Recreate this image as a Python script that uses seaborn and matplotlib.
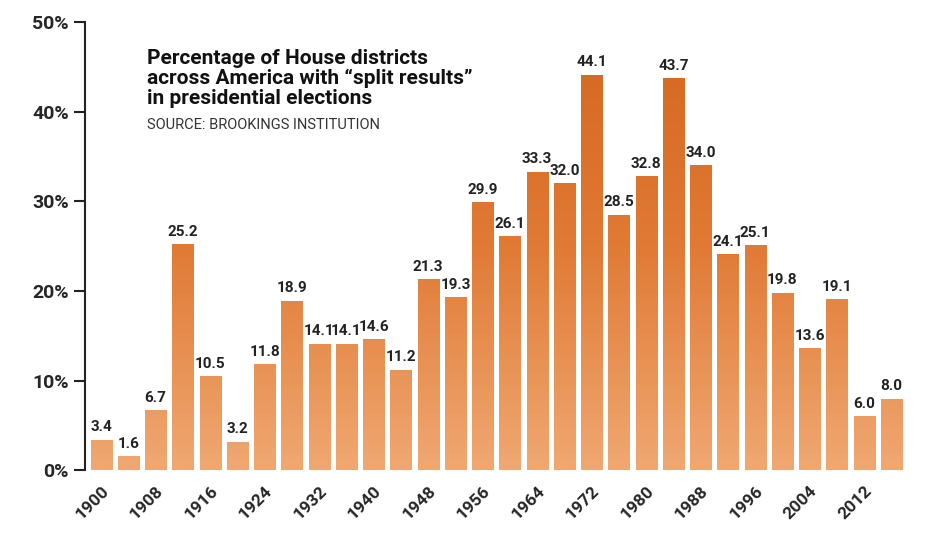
import matplotlib
matplotlib.use("Agg")
import matplotlib.pyplot as plt
import seaborn as sns
import numpy as np
import pandas as pd
from matplotlib.colors import LinearSegmentedColormap

years = list(range(1900, 2017, 4))
values = [3.4, 1.6, 6.7, 25.2, 10.5, 3.2, 11.8, 18.9, 14.1, 14.1, 14.6, 11.2, 21.3, 19.3,
          29.9, 26.1, 33.3, 32.0, 44.1, 28.5, 32.8, 43.7, 34.0, 24.1, 25.1, 19.8, 13.6,
          19.1, 6.0, 8.0]
yticks = [0, 10, 20, 30, 40, 50]

sns.set_theme(style="white")
plt.rcParams['font.family'] = ['Roboto', 'DejaVu Sans']

df = pd.DataFrame({"year": [str(y) for y in years], "value": values})
fig = plt.figure(figsize=(9.32, 5.35), dpi=100)
ax = fig.add_axes([0.091, 0.121, 0.883, 0.838])
sns.barplot(data=df, x="year", y="value", color="#e07a35", width=0.78, ax=ax, saturation=1)

cmap = LinearSegmentedColormap.from_list("g", ["#f0a872", "#e07a35", "#d4661e"])
grad = np.linspace(0, 1, 256).reshape(-1, 1)
for p in ax.patches:
    x0, w, h = p.get_x(), p.get_width(), p.get_height()
    im = ax.imshow(grad, cmap=cmap, extent=[x0, x0 + w, 0, 50], origin="lower",
                   aspect="auto", zorder=p.get_zorder())
    im.set_clip_path(p)
    p.set_facecolor("none")
for i, v in enumerate(values):
    ax.text(i, v + 0.6, f"{v:.1f}", ha="center", va="bottom", fontsize=11,
            fontweight="bold", color="#222222")

ax.set_xlim(-0.6, len(values) - 0.4)
ax.set_ylim(0, 50)
ax.set_yticks(yticks)
ax.set_yticklabels([f"{t}%" for t in yticks], fontsize=14, fontweight="bold")
ax.set_xticks(range(0, len(years), 2))
ax.set_xticklabels([str(y) for y in years[::2]], rotation=45, ha="right",
                   rotation_mode="anchor", fontsize=12.5, fontweight="bold")
ax.tick_params(axis="y", left=True, length=8, width=1.5, color="#222222")
ax.tick_params(axis="x", bottom=False)
for s in ["top", "right", "bottom"]:
    ax.spines[s].set_visible(False)
ax.spines["left"].set_linewidth(1.5)
ax.spines["left"].set_color("#222222")
ax.set_xlabel("")
ax.set_ylabel("")

ax.text(0.075, 0.94, "Percentage of House districts\nacross America with \u201csplit results\u201d\nin presidential elections",
        transform=ax.transAxes, fontsize=15, fontweight="bold", va="top", ha="left",
        color="#111111", linespacing=1.05)
ax.text(0.075, 0.785, "SOURCE: BROOKINGS INSTITUTION", transform=ax.transAxes,
        fontsize=10.5, va="top", ha="left", color="#333333")

fig.savefig("out.png", dpi=100)
